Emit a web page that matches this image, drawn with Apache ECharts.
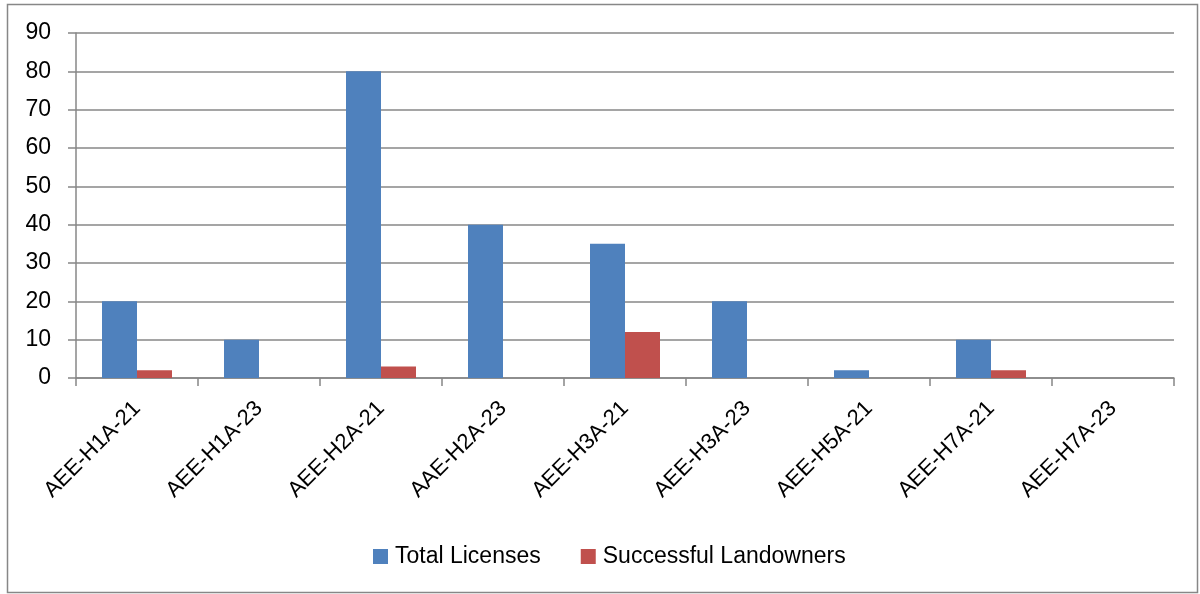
<!DOCTYPE html>
<html>
<head>
<meta charset="utf-8">
<script src="https://cdn.jsdelivr.net/npm/echarts@6/dist/echarts.min.js"></script>
<style>
  html, body { margin: 0; padding: 0; background: #fff; }
  #chart { width: 1200px; height: 594px; }
</style>
</head>
<body>
<div id="chart"></div>
<script>
// Licence blocks along the category axis
const categories = ['AEE-H1A-21', 'AEE-H1A-23', 'AEE-H2A-21', 'AAE-H2A-23', 'AEE-H3A-21',
                    'AEE-H3A-23', 'AEE-H5A-21', 'AEE-H7A-21', 'AEE-H7A-23'];
const totalLicenses = [20, 10, 80, 40, 35, 20, 2, 10, 0];
const successfulLandowners = [2, 0, 3, 0, 12, 0, 0, 2, 0];
const seriesNames = ['Total Licenses', 'Successful Landowners'];

const gray = '#878787';
const font = 'Liberation Sans, Arial, sans-serif';

const chart = echarts.init(document.getElementById('chart'));
chart.setOption({
  animation: false,
  backgroundColor: '#fff',
  color: ['#4F81BD', '#C0504D'],
  graphic: [{
    type: 'rect',
    shape: { x: 7.5, y: 4.5, width: 1190, height: 588 },
    style: { fill: 'none', stroke: gray, lineWidth: 1.5 },
    silent: true
  }],
  grid: { left: 76, right: 26, top: 33, bottom: 216, outerBoundsMode: 'none' },
  legend: {
    left: 368, top: 540,
    icon: 'rect', itemWidth: 15, itemHeight: 15, itemGap: 40,
    textStyle: { fontFamily: font, fontSize: 23, color: '#000', padding: [0, 0, 0, 2] },
    data: seriesNames
  },
  xAxis: {
    type: 'category',
    data: categories,
    boundaryGap: true,
    axisLine: { lineStyle: { color: gray, width: 1.5 } },
    axisTick: { show: true, length: 8, alignWithLabel: false, lineStyle: { color: gray, width: 1.5 } },
    axisLabel: { rotate: 45, margin: 27, interval: 0, fontFamily: font, fontSize: 22, color: '#000' }
  },
  yAxis: {
    type: 'value',
    min: 0, max: 90, interval: 10,
    axisLine: { show: true, lineStyle: { color: gray, width: 1.5 } },
    axisTick: { show: true, length: 8, lineStyle: { color: gray, width: 1.5 } },
    splitLine: { show: true, lineStyle: { color: gray, width: 1.5 } },
    axisLabel: { margin: 25, fontFamily: font, fontSize: 23, color: '#000' }
  },
  series: [
    { name: seriesNames[0], type: 'bar', data: totalLicenses, barWidth: 35, barGap: '0%' },
    { name: seriesNames[1], type: 'bar', data: successfulLandowners, barWidth: 35, barGap: '0%' }
  ]
});
</script>
</body>
</html>
